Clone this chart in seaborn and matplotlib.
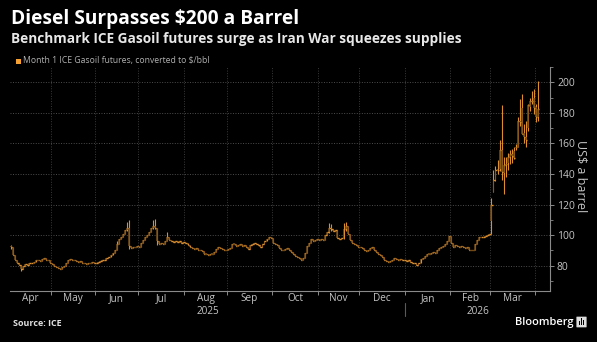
import numpy as np
import pandas as pd
import matplotlib
matplotlib.use("Agg")
import matplotlib.pyplot as plt
import matplotlib.transforms as mtransforms
from matplotlib.patches import FancyBboxPatch, Rectangle
import seaborn as sns

# ---------------- data ----------------
start_date = "2025-04-03"
end_date = "2026-04-02"

close_apr25 = [92.4, 87, 83.5, 82, 80.5, 78, 80, 81, 80.5, 82, 81.5, 82.5, 83.5, 84, 83, 84.5, 85, 84, 83.5, 82]
close_may25 = [81, 80, 79, 78.5, 78, 79.5, 80, 81.5, 83.5, 84.5, 84, 83.5, 83, 82.5, 83, 82, 81.5, 81, 82, 81.5, 82.5, 82]
close_jun25 = [81.5, 82.5, 83, 83.5, 84, 85, 85.5, 87, 88.5, 90, 94, 97.5, 99, 101, 103.5, 105, 93, 91.5, 92.5, 92, 93]
close_jul25 = [92.5, 95, 97, 99, 100, 102, 104.5, 106, 105, 96, 94.5, 95, 94, 96.5, 99, 97, 96, 95.5, 96, 95.5, 96, 95, 95.5]
close_aug25 = [95, 93.5, 92, 91.5, 91, 91.5, 90.5, 90, 89.5, 88, 87.5, 87, 87.5, 88, 89, 91, 92, 91.5, 91, 90.5, 90]
close_sep25 = [91, 91.5, 94.5, 94, 93, 93.5, 94, 93, 93.5, 92.5, 91, 93.5, 94, 95, 94, 93.5, 92.5, 94, 96, 97.5, 99, 98]
close_oct25 = [95, 94, 93.5, 91.5, 90, 90.5, 91, 91.5, 90.5, 89, 87.5, 86.5, 86, 85, 84, 85, 88.5, 93, 95, 97.5, 96.5, 97, 97.5]
close_nov25 = [97, 97.5, 97, 100, 102, 105, 104, 103, 103.5, 98, 97.5, 98, 104, 106, 101, 97, 95, 94, 93.5, 92]
close_dec25 = [92, 91.5, 90.5, 89.5, 90, 91.5, 92, 90.5, 89, 88, 87, 85.5, 84, 83, 82.5, 83, 84, 85, 84.5, 84, 84.5, 84, 83.5]
close_jan26 = [83, 83.5, 82.5, 82, 81.5, 80.5, 82, 84.5, 85, 86.5, 88, 87.5, 88.5, 89, 88.5, 90, 91.5, 92, 93, 94.5, 96, 99.5]
close_feb26 = [95, 92, 93.5, 93, 92.5, 93, 92, 91.5, 92, 90, 90.5, 90, 94, 97, 98.5, 99, 98.5, 99.5, 100, 101]

# days with visible wicks beyond the open/close step
wick_dates = ["2025-04-03", "2025-04-10", "2025-06-16", "2025-06-23", "2025-06-24",
              "2025-07-10", "2025-07-11", "2025-07-14", "2025-07-21",
              "2025-11-10", "2025-11-11", "2025-11-19", "2025-11-20"]
wick_high = [93.5, 80.5, 96, 108.7, 110, 110, 110.5, 99, 102, 108, 107, 108, 108.5]
wick_low = [91, 76.8, 90, 103, 91, 104, 104, 93.5, 96, 101.5, 103, 97.5, 103]

# war period (2 Mar 2026 - 2 Apr 2026), full OHLC
war_open = [109, 128, 136, 143, 143, 156, 141, 146, 147, 151, 153, 155, 157, 158, 175, 183, 167, 164, 170, 184, 187, 190, 184, 177]
war_high = [124.5, 142.5, 145.5, 149, 162, 185, 151, 151, 153.5, 155.5, 156.5, 158, 159.5, 177, 189, 192.5, 173, 175, 186, 189.5, 194.5, 195.5, 186, 201]
war_low = [101, 128, 135.5, 140, 142, 136, 127, 138, 142.5, 146.5, 147, 150, 156, 157.5, 171.5, 166, 160, 157.5, 168, 181.5, 186, 179.5, 174, 175]
war_close = [120, 136, 142.5, 142.5, 155.5, 141.5, 146, 146.5, 151, 153, 151.5, 150.5, 157.5, 175, 174, 166.5, 164.5, 162, 185, 187.5, 188, 183, 177, 182.5]

y_ticks = [80, 100, 120, 140, 160, 180, 200]
month_names = ["Apr", "May", "Jun", "Jul", "Aug", "Sep", "Oct", "Nov", "Dec", "Jan", "Feb", "Mar"]
year_names = ["2025", "2026"]

title = "Diesel Surpasses $200 a Barrel"
subtitle = "Benchmark ICE Gasoil futures surge as Iran War squeezes supplies"
legend_label = "Month 1 ICE Gasoil futures, converted to $/bbl"
y_label = "US$ a barrel"
source = "Source: ICE"

# ---------------- assemble ----------------
dates = pd.bdate_range(start_date, end_date)
pre_close = (close_apr25 + close_may25 + close_jun25 + close_jul25 + close_aug25 + close_sep25
             + close_oct25 + close_nov25 + close_dec25 + close_jan26 + close_feb26)
pre_open = [pre_close[0]] + pre_close[:-1]
opens = pre_open + war_open
closes = pre_close + war_close
n_pre = len(pre_close)
df = pd.DataFrame({"date": dates, "open": opens, "close": closes})
df["x"] = np.arange(len(df))
df["high"] = df[["open", "close"]].max(axis=1)
df["low"] = df[["open", "close"]].min(axis=1)
wk = pd.DataFrame({"date": pd.to_datetime(wick_dates), "wh": wick_high, "wl": wick_low})
df = df.merge(wk, on="date", how="left")
df["high"] = np.fmax(df["high"], df["wh"].fillna(-np.inf))
df["low"] = np.fmin(df["low"], df["wl"].fillna(np.inf))
df.loc[n_pre:, "high"] = war_high
df.loc[n_pre:, "low"] = war_low

# ---------------- style ----------------
sns.set_theme(style="dark")
plt.rcParams["font.family"] = ["Open Sans", "DejaVu Sans"]
BG = "#000000"
GRID = "#4d4d4d"
AXC = "#8a8a8a"
TXT = "#c4c4c4"
WICK = "#dc8f2e"
BODY = "#754b18"

W, H = 597, 342
fig = plt.figure(figsize=(W / 100, H / 100), dpi=100, facecolor=BG)
ax_left, ax_right, ax_top, ax_bot = 10, 550, 67, 291
ax = fig.add_axes([ax_left / W, 1 - ax_bot / H, (ax_right - ax_left) / W, (ax_bot - ax_top) / H])
ax.set_facecolor(BG)

x_lo, x_hi = -0.6, 265.9
ax.set_xlim(x_lo, x_hi)
ax.set_ylim(63.5, 209.5)

# grid
for v in y_ticks:
    ax.axhline(v, color=GRID, lw=0.7, ls=(0, (1, 1.6)), zorder=0)
mstart = df.groupby(df["date"].dt.to_period("M"))["x"].min().values
bounds = [m - 0.5 for m in mstart[1:]]
for b in bounds:
    ax.axvline(b, color="#3a3a3a", lw=0.7, ls=(0, (1, 1.6)), zorder=0)

# candles
body_bottom = df[["open", "close"]].min(axis=1)
body_h = (df["close"] - df["open"]).abs().clip(lower=0.6)
ax.vlines(df["x"], df["low"], df["high"], color=WICK, lw=0.8, zorder=2)
ax.bar(df["x"], body_h, bottom=body_bottom, width=0.95, color=BODY, alpha=0.8, linewidth=0, zorder=3)
ax.hlines(df["close"], df["x"], df["x"] + 0.6, color=WICK, lw=1.0, zorder=4)

# spines
for s in ["left", "top"]:
    ax.spines[s].set_visible(False)
for s in ["right", "bottom"]:
    ax.spines[s].set_visible(True)
    ax.spines[s].set_color(AXC)
    ax.spines[s].set_linewidth(0.8)

# y axis on the right
ax.yaxis.tick_right()
ax.set_yticks(y_ticks)
ax.set_yticks([v + 10 for v in y_ticks] + [70], minor=True)
ax.tick_params(axis="y", which="major", length=3, width=0.7, color=AXC, labelcolor=TXT,
               labelsize=7.5, pad=2, right=True, left=False)
ax.tick_params(axis="y", which="minor", length=2, width=0.6, color=AXC, right=True, left=False)
ax.set_ylabel("")
fig.text(581 / W, 1 - 176 / H, y_label, rotation=270, color=TXT, fontsize=9,
         ha="center", va="center")

# x axis: month boundaries as ticks, names centred in between
ax.set_xticks(bounds)
ax.set_xticklabels([""] * len(bounds))
ax.tick_params(axis="x", which="major", length=3, width=0.7, color=AXC, bottom=True)
edges = [x_lo] + bounds
centers = [(edges[k] + edges[k + 1]) / 2 for k in range(len(month_names))]
ax.set_xticks(centers, minor=True)
ax.set_xticklabels(month_names, minor=True)
ax.tick_params(axis="x", which="minor", length=0, labelcolor=TXT, labelsize=7.2, pad=1.5)

trans = mtransforms.blended_transform_factory(ax.transData, fig.transFigure)
year_split = df.loc[df["date"].dt.year == 2026, "x"].min() - 0.5
ax.text((x_lo + year_split) / 2, 1 - 311 / H, year_names[0], transform=trans, color=TXT,
        fontsize=7.2, ha="center", va="center")
ax.text((year_split + x_hi) / 2, 1 - 311 / H, year_names[1], transform=trans, color=TXT,
        fontsize=7.2, ha="center", va="center")
ax.plot([year_split, year_split], [1 - 303 / H, 1 - 316 / H], transform=trans, color="#5a5a5a",
        lw=0.8, clip_on=False)

# titles
fig.text(11 / W, 1 - 19 / H, title, color="white", fontsize=13.8, fontweight="bold", ha="left", va="center")
fig.text(11 / W, 1 - 39 / H, subtitle, color="#e8e8e8", fontsize=9.85, fontweight="bold", ha="left", va="center")
fig.patches.append(Rectangle((15.5 / W, 1 - 63.5 / H), 5 / W, 5 / H, transform=fig.transFigure,
                             color="#f5a033", lw=0))
fig.text(23 / W, 1 - 61 / H, legend_label, color="#b0b0b0", fontsize=6.2, ha="left", va="center")

# footer
fig.text(13 / W, 1 - 323 / H, source, color="#e0e0e0", fontsize=6.5, fontweight="bold", ha="left", va="center")
fig.text(573 / W, 1 - 322 / H, "Bloomberg", color="white", fontsize=8, fontweight="semibold",
         ha="right", va="center")
fig.patches.append(FancyBboxPatch((577 / W, 1 - 327 / H), 9 / W, 10 / H, boxstyle="round,pad=0.001",
                                  transform=fig.transFigure, color="#dddddd", lw=0))
for k, hgt in enumerate([4, 7, 5]):
    fig.patches.append(Rectangle(((578.8 + 2.2 * k) / W, 1 - 325 / H), 1.2 / W, hgt / H,
                                 transform=fig.transFigure, color="#000000", lw=0))

fig.savefig("out.png", dpi=100, facecolor=BG)
